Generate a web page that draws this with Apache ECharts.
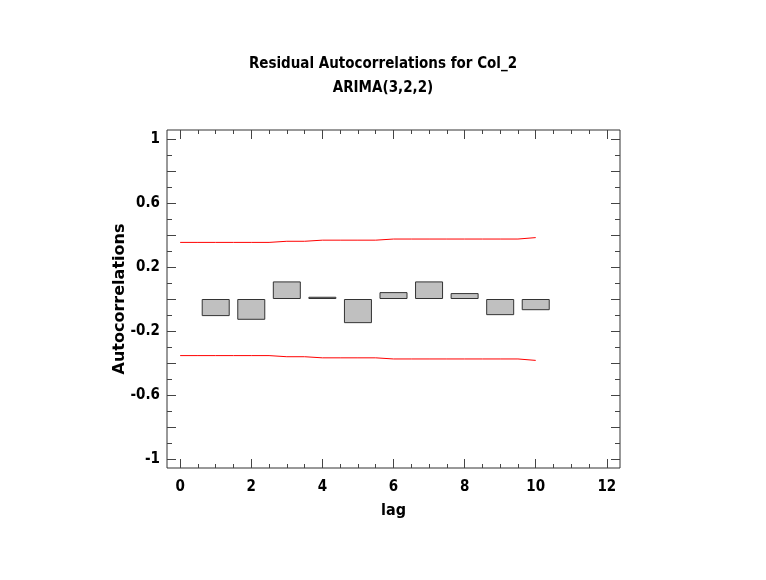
<!DOCTYPE html>
<html>
<head>
<meta charset="utf-8">
<script src="https://cdn.jsdelivr.net/npm/echarts@6/dist/echarts.min.js"></script>
<style>
html,body{margin:0;padding:0;background:#fff;}
#chart{width:766px;height:580px;}
</style>
</head>
<body>
<div id="chart"></div>
<script>
// ---- data ----
var lags = [1, 2, 3, 4, 5, 6, 7, 8, 9, 10];
var acf = [-0.107, -0.130, 0.110, 0.014, -0.151, 0.043, 0.110, 0.037, -0.101, -0.070];
var limitLags = [0, 1, 2, 3, 4, 5, 6, 7, 8, 9, 10];
var upperLimit = [0.354, 0.354, 0.354, 0.361, 0.368, 0.368, 0.375, 0.375, 0.375, 0.375, 0.384];
var lowerLimit = [-0.354, -0.354, -0.354, -0.361, -0.368, -0.368, -0.375, -0.375, -0.375, -0.375, -0.384];
var xMajorTicks = [0, 2, 4, 6, 8, 10, 12];
var xMinorTicks = [0.5, 1, 1.5, 2.5, 3, 3.5, 4.5, 5, 5.5, 6.5, 7, 7.5, 8.5, 9, 9.5, 10.5, 11, 11.5];
var yLabelTicks = [-1, -0.6, -0.2, 0.2, 0.6, 1];
var yMajorTicks = [-1, -0.8, -0.6, -0.4, -0.2, 0, 0.2, 0.4, 0.6, 0.8, 1];
var yMinorTicks = [-0.9, -0.7, -0.5, -0.3, -0.1, 0.1, 0.3, 0.5, 0.7, 0.9];
var titleText = 'Residual Autocorrelations for Col_2';
var subTitleText = 'ARIMA(3,2,2)';

var FONT = '"Liberation Sans Narrow", "Arial Narrow", "DejaVu Sans Condensed", sans-serif';
var X_MIN = -0.37, X_MAX = 12.37, Y_MIN = -1.057, Y_MAX = 1.057;
var tickColor = '#444';

function zip(a, b) { return a.map(function (v, i) { return [v, b[i]]; }); }

function xAx(pos, ticks, len, labels, extra) {
  var o = {
    type: 'value', position: pos, min: X_MIN, max: X_MAX,
    axisLine: { show: false, onZero: false },
    splitLine: { show: false },
    axisTick: { show: true, inside: true, length: len, customValues: ticks, lineStyle: { color: tickColor, width: 1 } },
    axisLabel: labels ? { show: true, customValues: ticks, margin: 12, color: '#000', fontFamily: FONT, fontWeight: 'bold', fontSize: 15 } : { show: false }
  };
  return Object.assign(o, extra || {});
}
function yAx(pos, ticks, len, labels, extra) {
  var o = {
    type: 'value', position: pos, min: Y_MIN, max: Y_MAX,
    axisLine: { show: false, onZero: false },
    splitLine: { show: false },
    axisTick: { show: true, inside: true, length: len, customValues: ticks, lineStyle: { color: tickColor, width: 1 } },
    axisLabel: labels ? { show: true, customValues: yLabelTicks, margin: 7, color: '#000', fontFamily: FONT, fontWeight: 'bold', fontSize: 15 } : { show: false }
  };
  return Object.assign(o, extra || {});
}

var chart = echarts.init(document.getElementById('chart'), null, { renderer: 'canvas' });
chart.setOption({
  animation: false,
  backgroundColor: '#fff',
  title: [
    { text: titleText, left: 'center', top: 52, textStyle: { fontFamily: FONT, fontWeight: 'bold', fontSize: 15, color: '#000' } },
    { text: subTitleText, left: 'center', top: 76, textStyle: { fontFamily: FONT, fontWeight: 'bold', fontSize: 15, color: '#000' } }
  ],
  grid: { left: 167, right: 146, top: 130, bottom: 112, show: true, borderColor: '#333', borderWidth: 1, backgroundColor: '#fff' },
  xAxis: [
    xAx('bottom', xMajorTicks, 9, true, {
      name: 'lag', nameLocation: 'middle', nameGap: 35, nameMoveOverlap: false,
      nameTextStyle: { fontFamily: FONT, fontWeight: 'bold', fontSize: 16, color: '#000' }
    }),
    xAx('bottom', xMinorTicks, 4, false),
    xAx('top', xMajorTicks, 9, false),
    xAx('top', xMinorTicks, 4, false)
  ],
  yAxis: [
    yAx('left', yMajorTicks, 9, true, {
      name: 'Autocorrelations', nameLocation: 'middle', nameRotate: 90, nameGap: 39, nameMoveOverlap: false,
      nameTextStyle: { fontFamily: '"DejaVu Sans", sans-serif', fontWeight: 'bold', fontSize: 16, color: '#000' }
    }),
    yAx('left', yMinorTicks, 5, false),
    yAx('right', yMajorTicks, 9, false),
    yAx('right', yMinorTicks, 5, false)
  ],
  series: [
    {
      type: 'bar', xAxisIndex: 0, yAxisIndex: 0,
      data: zip(lags, acf), barWidth: 28,
      itemStyle: { color: '#c0c0c0', borderColor: '#333', borderWidth: 1 }
    },
    {
      type: 'line', xAxisIndex: 0, yAxisIndex: 0, step: 'middle',
      data: zip(limitLags, upperLimit), symbol: 'none',
      lineStyle: { color: '#ff0000', width: 1 }
    },
    {
      type: 'line', xAxisIndex: 0, yAxisIndex: 0, step: 'middle',
      data: zip(limitLags, lowerLimit), symbol: 'none',
      lineStyle: { color: '#ff0000', width: 1 }
    }
  ]
});
</script>
</body>
</html>
